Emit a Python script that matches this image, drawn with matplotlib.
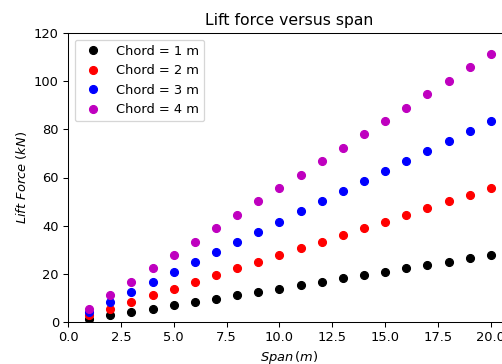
import matplotlib
matplotlib.use("Agg")
import matplotlib.pyplot as plt

span = [1, 2, 3, 4, 5, 6, 7, 8, 9, 10, 11, 12, 13, 14, 15, 16, 17, 18, 19, 20]
lift_c1 = [1.4, 2.8, 4.2, 5.6, 7.0, 8.3, 9.7, 11.1, 12.5, 13.9, 15.3, 16.7, 18.1, 19.5, 20.9, 22.3, 23.6, 25.0, 26.4, 27.8]
lift_c2 = [2.8, 5.6, 8.3, 11.1, 13.9, 16.7, 19.5, 22.3, 25.0, 27.8, 30.6, 33.4, 36.1, 38.9, 41.7, 44.5, 47.3, 50.1, 52.8, 55.6]
lift_c3 = [4.2, 8.3, 12.5, 16.7, 20.9, 25.0, 29.2, 33.4, 37.5, 41.7, 45.9, 50.1, 54.2, 58.4, 62.6, 66.7, 70.9, 75.1, 79.3, 83.4]
lift_c4 = [5.6, 11.1, 16.7, 22.3, 27.8, 33.4, 38.9, 44.5, 50.1, 55.6, 61.2, 66.7, 72.3, 77.9, 83.4, 89.0, 94.6, 100.1, 105.7, 111.2]
series = [lift_c1, lift_c2, lift_c3, lift_c4]
labels = ["Chord = 1 m", "Chord = 2 m", "Chord = 3 m", "Chord = 4 m"]
colors = ["k", "r", "b", "m"]

DPI = 72 * 1.3
fig = plt.figure(figsize=(502/DPI, 364/DPI), dpi=DPI)
ax = fig.add_axes([68/502, 42/364, 443/502, 289/364])
for y, lab, c in zip(series, labels, colors):
    ax.plot(span, y, "o", color=c, label=lab)
ax.set_xlim(0, 20.95)
ax.set_ylim(0, 120)
ax.set_title("Lift force versus span")
ax.set_xlabel(r"$Span\,(m)$")
ax.set_ylabel(r"$Lift\ Force\ (kN)$")
ax.legend(loc="upper left")
fig.savefig("out.png", dpi=DPI)
